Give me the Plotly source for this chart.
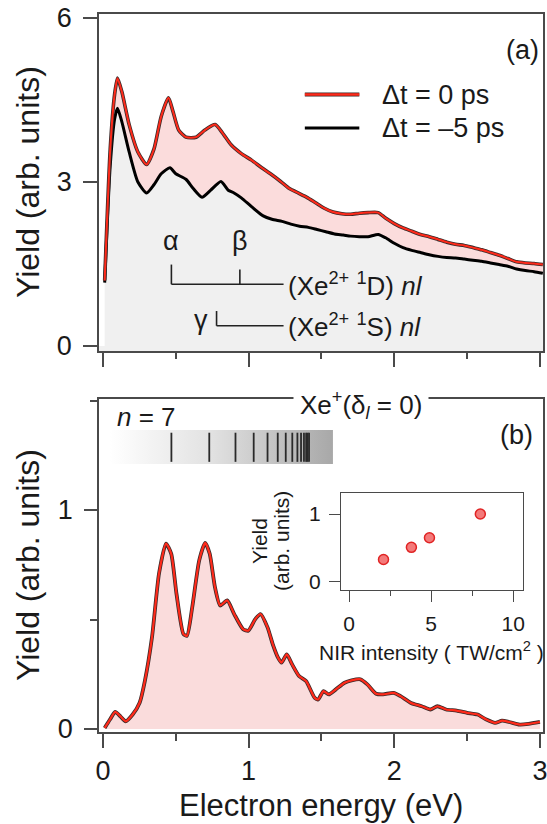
import plotly.graph_objects as go

W, H = 547, 824


def px(x):
    return x / W


def py(y):
    return 1 - y / H


# ---------------- data ----------------
# panel (a): delay 0 ps (red) and -5 ps (black)
top_e_red = [0.012, 0.05, 0.08, 0.10, 0.13, 0.18, 0.24, 0.30, 0.35, 0.40, 0.45, 0.48, 0.52, 0.57,
             0.64, 0.70, 0.77, 0.82, 0.88, 0.95, 1.02, 1.09, 1.15, 1.22, 1.28, 1.34, 1.40, 1.46,
             1.52, 1.58, 1.64, 1.70, 1.76, 1.82, 1.89, 1.94, 2.00, 2.06, 2.12, 2.18, 2.24, 2.30,
             2.36, 2.42, 2.48, 2.54, 2.60, 2.66, 2.72, 2.78, 2.84, 2.90, 2.96, 3.02]
top_red = [1.20, 3.60, 4.60, 4.90, 4.65, 4.05, 3.55, 3.32, 3.60, 4.20, 4.54, 4.30, 3.95, 3.82,
           3.82, 3.95, 4.05, 3.90, 3.68, 3.52, 3.40, 3.26, 3.15, 3.01, 2.88, 2.80, 2.72, 2.62,
           2.52, 2.45, 2.42, 2.41, 2.43, 2.44, 2.44, 2.34, 2.24, 2.16, 2.10, 2.04, 2.00, 1.95,
           1.90, 1.86, 1.84, 1.80, 1.76, 1.71, 1.66, 1.60, 1.54, 1.52, 1.51, 1.49]
top_e_black = [0.012, 0.05, 0.08, 0.10, 0.13, 0.18, 0.24, 0.30, 0.35, 0.40, 0.46, 0.50, 0.57, 0.62,
               0.68, 0.74, 0.81, 0.86, 0.90, 0.95, 1.02, 1.10, 1.16, 1.23, 1.29, 1.35, 1.41, 1.47,
               1.53, 1.59, 1.65, 1.70, 1.76, 1.82, 1.89, 1.94, 2.00, 2.06, 2.12, 2.18, 2.24, 2.30,
               2.36, 2.42, 2.48, 2.54, 2.60, 2.66, 2.72, 2.78, 2.84, 2.90, 2.96, 3.02]
top_black = [1.16, 3.30, 4.15, 4.35, 4.10, 3.55, 3.00, 2.80, 2.95, 3.15, 3.26, 3.15, 3.05, 2.88,
             2.72, 2.85, 3.01, 2.85, 2.80, 2.71, 2.55, 2.38, 2.32, 2.28, 2.23, 2.19, 2.17, 2.13,
             2.09, 2.05, 2.03, 2.01, 2.00, 2.00, 2.04, 1.98, 1.88, 1.80, 1.75, 1.71, 1.67, 1.64,
             1.62, 1.61, 1.59, 1.57, 1.55, 1.52, 1.49, 1.46, 1.41, 1.38, 1.36, 1.33]

# panel (b): difference spectrum
bot_e = [0.012, 0.048, 0.084, 0.12, 0.156, 0.204, 0.252, 0.288, 0.337, 0.385, 0.433, 0.469,
         0.505, 0.553, 0.577, 0.613, 0.661, 0.702, 0.733, 0.769, 0.805, 0.853, 0.901, 0.962,
         0.998, 1.046, 1.082, 1.13, 1.166, 1.202, 1.226, 1.262, 1.298, 1.346, 1.394, 1.454,
         1.478, 1.514, 1.55, 1.599, 1.659, 1.707, 1.767, 1.815, 1.875, 1.923, 1.995, 2.043,
         2.115, 2.188, 2.248, 2.296, 2.356, 2.428, 2.5, 2.572, 2.632, 2.692, 2.74, 2.788,
         2.861, 2.921, 3.0]
bot_y = [0.005, 0.043, 0.078, 0.058, 0.035, 0.066, 0.12, 0.22, 0.42, 0.71, 0.847, 0.80,
         0.617, 0.433, 0.426, 0.556, 0.77, 0.85, 0.80, 0.648, 0.564, 0.587, 0.525, 0.456,
         0.449, 0.502, 0.525, 0.464, 0.387, 0.326, 0.303, 0.341, 0.296, 0.242, 0.219, 0.142,
         0.135, 0.173, 0.158, 0.181, 0.211, 0.222, 0.227, 0.204, 0.161, 0.158, 0.165, 0.15,
         0.119, 0.104, 0.089, 0.104, 0.089, 0.084, 0.074, 0.066, 0.043, 0.028, 0.038, 0.032,
         0.02, 0.023, 0.032]

# Rydberg series Xe+(delta_l = 0) positions, n = 7 ...
rydberg_e = [0.47, 0.73, 0.91, 1.035, 1.13, 1.20, 1.255, 1.30, 1.335, 1.36, 1.38, 1.395,
             1.405, 1.415]
bar_e = [0.048, 1.579]
bar_y = [1.21, 1.365]
line_y = [1.22, 1.353]

# inset
nir_intensity = [2.1, 3.8, 4.9, 8.0]
nir_yield = [0.33, 0.51, 0.65, 1.0]

# ---------------- styling constants ----------------
FONT = "Liberation Sans, Arial, Helvetica, sans-serif"
TXT = "#1a1a1a"
AX = "#4a4a4a"
RED = "#ff2a1a"
DARK = "#3a2a2a"
GRAY = "#f0f0f0"
SPL = dict(shape="spline", smoothing=0.6)

fig = go.Figure()

# panel (a)
fig.add_trace(go.Scatter(x=top_e_black, y=top_black, mode="lines", fill="tozeroy",
                         fillcolor=GRAY, line=dict(color="black", width=3, **SPL),
                         xaxis="x", yaxis="y", showlegend=False))
fig.add_trace(go.Scatter(x=top_e_red, y=top_red, mode="lines", fill="tonexty",
                         fillcolor="#fbdcdc", line=dict(color=DARK, width=3.6, **SPL),
                         xaxis="x", yaxis="y", showlegend=False))
fig.add_trace(go.Scatter(x=top_e_red, y=top_red, mode="lines",
                         line=dict(color=RED, width=2, **SPL),
                         xaxis="x", yaxis="y", showlegend=False))

# panel (b)
fig.add_trace(go.Scatter(x=bot_e, y=bot_y, mode="lines", fill="tozeroy",
                         fillcolor="#fadcdc", line=dict(color=DARK, width=3.8, **SPL),
                         xaxis="x2", yaxis="y2", showlegend=False))
fig.add_trace(go.Scatter(x=bot_e, y=bot_y, mode="lines",
                         line=dict(color=RED, width=2.2, **SPL),
                         xaxis="x2", yaxis="y2", showlegend=False))

# gradient bar of the Rydberg series
fig.add_trace(go.Scatter(x=[bar_e[0], bar_e[1], bar_e[1], bar_e[0], bar_e[0]],
                         y=[bar_y[0], bar_y[0], bar_y[1], bar_y[1], bar_y[0]],
                         mode="lines", fill="toself", line=dict(width=0),
                         fillgradient=dict(type="horizontal",
                                           colorscale=[[0, "#ffffff"], [0.45, "#e2e2e2"],
                                                       [1, "#a8a8a8"]]),
                         xaxis="x2", yaxis="y2", showlegend=False, hoverinfo="skip"))
rx, ry = [], []
for e in rydberg_e:
    rx += [e, e, None]
    ry += [line_y[0], line_y[1], None]
fig.add_trace(go.Scatter(x=rx, y=ry, mode="lines", line=dict(color="#2a2a2a", width=1.8),
                         xaxis="x2", yaxis="y2", showlegend=False))

# inset
fig.add_trace(go.Scatter(x=nir_intensity, y=nir_yield, mode="markers",
                         marker=dict(size=10, color="#f47a7a",
                                     line=dict(color="#e02424", width=1.5)),
                         xaxis="x3", yaxis="y3", showlegend=False))

tickfont = dict(family=FONT, size=27, color=TXT)
common = dict(showgrid=False, zeroline=False, showline=True, mirror=True, linecolor=AX,
              linewidth=1.6, ticks="outside", tickcolor=AX, tickwidth=1.6, tickfont=tickfont,
              automargin=False, ticklabeloverflow="allow")
inset_common = {**common, "tickfont": dict(family=FONT, size=21, color=TXT), "linewidth": 1.4,
                "tickwidth": 1.4}

XDOM = [px(99), px(543)]
XR = [-0.027, 3.021]
YR_A = [-0.091, 6.073]

fig.update_layout(
    template="none",
    width=W, height=H, margin=dict(l=0, r=0, t=0, b=0, pad=0),
    paper_bgcolor="white", plot_bgcolor="white",
    font=dict(family=FONT, color=TXT),
    xaxis=dict(domain=XDOM, anchor="y", range=XR, tick0=0, dtick=1, ticklen=14,
               showticklabels=False,
               minor=dict(dtick=0.5, ticklen=6, ticks="outside", tickcolor=AX, tickwidth=1.6),
               **common),
    yaxis=dict(domain=[py(351), py(14)], anchor="x", range=YR_A, tick0=0, dtick=3,
               ticklen=14, ticklabelstandoff=6, **common),
    xaxis2=dict(domain=XDOM, anchor="y2", range=XR, tick0=0, dtick=1, ticklen=14,
                ticklabelstandoff=0,
                minor=dict(dtick=0.5, ticklen=7, ticks="outside", tickcolor=AX, tickwidth=1.6),
                **common),
    yaxis2=dict(domain=[py(732), py(399)], anchor="x2", range=[-0.0137, 1.507], tick0=0, dtick=1,
                ticklen=13, ticklabelstandoff=6,
                minor=dict(dtick=0.5, ticklen=7, ticks="outside", tickcolor=AX, tickwidth=1.6),
                **common),
    xaxis3=dict(domain=[px(341), px(523)], anchor="y3", range=[-0.49, 10.6], tick0=0, dtick=5,
                ticklen=11, ticklabelstandoff=4,
                minor=dict(dtick=2.5, ticklen=5, ticks="outside", tickcolor=AX, tickwidth=1.4),
                **inset_common),
    yaxis3=dict(domain=[py(590), py(493)], anchor="x3", range=[-0.118, 1.309], tick0=0, dtick=1,
                ticklen=11, ticklabelstandoff=4, **inset_common),
)

# grey background strip below the zero line of panel (a)
shapes = [dict(type="rect", xref="x", yref="y", x0=XR[0], x1=XR[1], y0=YR_A[0], y1=0,
               fillcolor=GRAY, line=dict(width=0), layer="below")]
# legend of panel (a)
LEG_X = [1.386, 1.76]
LEG_Y = [4.60, 3.99]
shapes += [
    dict(type="line", xref="x", yref="y", x0=LEG_X[0], x1=LEG_X[1], y0=LEG_Y[0], y1=LEG_Y[0],
         line=dict(color=DARK, width=4)),
    dict(type="line", xref="x", yref="y", x0=LEG_X[0], x1=LEG_X[1], y0=LEG_Y[0], y1=LEG_Y[0],
         line=dict(color=RED, width=2.4)),
    dict(type="line", xref="x", yref="y", x0=LEG_X[0], x1=LEG_X[1], y0=LEG_Y[1], y1=LEG_Y[1],
         line=dict(color="black", width=3)),
]
# assignment brackets
BR = dict(color="#222222", width=1.6)
shapes += [
    dict(type="line", xref="x", yref="y", x0=0.47, x1=0.47, y0=1.49, y1=1.13, line=BR),
    dict(type="line", xref="x", yref="y", x0=0.94, x1=0.94, y0=1.40, y1=1.13, line=BR),
    dict(type="line", xref="x", yref="y", x0=0.47, x1=1.24, y0=1.13, y1=1.13, line=BR),
    dict(type="line", xref="x", yref="y", x0=0.78, x1=0.78, y0=0.64, y1=0.37, line=BR),
    dict(type="line", xref="x", yref="y", x0=0.78, x1=1.24, y0=0.37, y1=0.37, line=BR),
]
fig.update_layout(shapes=shapes)

f26 = dict(family=FONT, size=26, color=TXT)
f27 = dict(family=FONT, size=27, color=TXT)
f31 = dict(family=FONT, size=31, color=TXT)
f32 = dict(family=FONT, size=32, color=TXT)
f21 = dict(family=FONT, size=21, color=TXT)
C = dict(xanchor="center", yanchor="middle", showarrow=False)
ann = [
    # axis titles
    dict(xref="paper", yref="paper", x=px(28), y=py(182), text="Yield (arb. units)",
         textangle=-90, font=f32, **C),
    dict(xref="paper", yref="paper", x=px(28), y=py(565), text="Yield (arb. units)",
         textangle=-90, font=f32, **C),
    dict(xref="paper", yref="paper", x=px(321), y=py(805), text="Electron energy (eV)",
         font=f31, **C),
    # panel (a)
    dict(xref="x", yref="y", x=1.90, y=LEG_Y[0], text="Δt = 0 ps", xanchor="left",
         yanchor="middle", showarrow=False, font=f27),
    dict(xref="x", yref="y", x=1.90, y=LEG_Y[1], text="Δt = –5 ps", xanchor="left",
         yanchor="middle", showarrow=False, font=f27),
    dict(xref="x", yref="y", x=2.88, y=5.42, text="(a)", font=f27, **C),
    dict(xref="x", yref="y", x=0.47, y=1.92, text="α", font=f27, **C),
    dict(xref="x", yref="y", x=0.94, y=1.92, text="β", font=f27, **C),
    dict(xref="x", yref="y", x=0.675, y=0.47, text="γ", font=f27, **C),
    dict(xref="x", yref="y", x=1.26, y=1.13, text="(Xe<sup>2+</sup> <sup>1</sup>D) <i>nl</i>",
         xanchor="left", yanchor="middle", showarrow=False, font=f26),
    dict(xref="x", yref="y", x=1.26, y=0.37, text="(Xe<sup>2+</sup> <sup>1</sup>S) <i>nl</i>",
         xanchor="left", yanchor="middle", showarrow=False, font=f26),
    # panel (b)
    dict(xref="x2", yref="paper", x=1.77, y=py(405),
         text="Xe<sup>+</sup>(δ<sub><i>l</i></sub> = 0)", font=f26,
         bgcolor="white", borderpad=6, **C),
    dict(xref="x2", yref="y2", x=0.30, y=1.425, text="<i>n</i> = 7", font=f26, **C),
    dict(xref="x2", yref="y2", x=2.84, y=1.342, text="(b)", font=f27, **C),
    # inset titles
    dict(xref="paper", yref="paper", x=px(259), y=py(541), text="Yield", textangle=-90,
         font=f21, **C),
    dict(xref="paper", yref="paper", x=px(281), y=py(541), text="(arb. units)", textangle=-90,
         font=f21, **C),
    dict(xref="paper", yref="paper", x=px(431), y=py(651),
         text="NIR intensity ( TW/cm<sup>2</sup> )", font=f21, **C),
]
fig.update_layout(annotations=ann)

fig.write_html("out.html", config={"displayModeBar": False},
               post_script="document.body.style.margin='0';document.body.style.padding='0';")
